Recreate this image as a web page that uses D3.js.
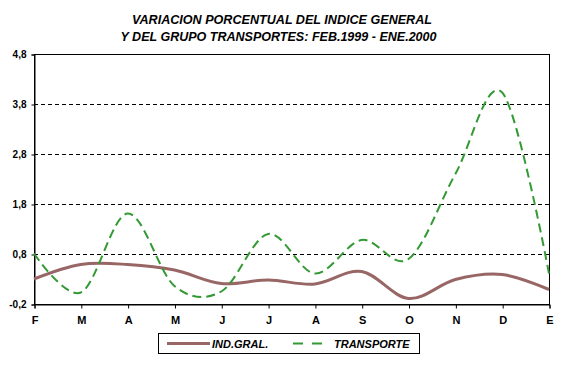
<!DOCTYPE html>
<html>
<head>
<meta charset="utf-8">
<script src="https://cdn.jsdelivr.net/npm/d3@7"></script>
<style>
  html, body { margin: 0; padding: 0; background: #fff; }
  svg { display: block; }
  text { font-family: "Liberation Sans", Arial, sans-serif; }
</style>
</head>
<body>
<div id="chart"></div>
<script>
const titleLines = ["VARIACION PORCENTUAL DEL INDICE GENERAL", "Y DEL GRUPO TRANSPORTES: FEB.1999 - ENE.2000"];
const months = ["F", "M", "A", "M", "J", "J", "A", "S", "O", "N", "D", "E"];
const indGral = [0.30, 0.59, 0.59, 0.48, 0.21, 0.28, 0.20, 0.45, -0.09, 0.29, 0.39, 0.09];
const transporte = [0.81, 0.03, 1.61, 0.16, 0.05, 1.20, 0.41, 1.08, 0.70, 2.40, 4.03, 0.41];
const yTicks = [-0.2, 0.8, 1.8, 2.8, 3.8, 4.8];
const seriesNames = ["IND.GRAL.", "TRANSPORTE"];

const W = 561, H = 369;
const svg = d3.select("#chart").append("svg").attr("width", W).attr("height", H);

const x = d3.scaleLinear().domain([0, months.length - 1]).range([34, 549]);
const y = d3.scaleLinear().domain([-0.2, 4.8]).range([304, 54]);

// title
svg.selectAll("text.title").data(titleLines).enter().append("text")
  .attr("class", "title")
  .attr("x", (d, i) => i === 0 ? 282 : 278.5)
  .attr("y", (d, i) => i === 0 ? 24 : 41)
  .attr("text-anchor", "middle")
  .attr("font-size", "12px").attr("font-weight", "bold").attr("font-style", "italic")
  .attr("textLength", (d, i) => i === 0 ? 300 : 316)
  .attr("lengthAdjust", "spacingAndGlyphs")
  .text(d => d);

// gridlines
svg.append("g").selectAll("line").data(yTicks.filter(v => v > -0.2 && v < 4.8)).enter().append("line")
  .attr("x1", x.range()[0]).attr("x2", x.range()[1])
  .attr("y1", d => y(d) + 0.5).attr("y2", d => y(d) + 0.5)
  .attr("stroke", "#000").attr("stroke-width", 1).attr("stroke-dasharray", "4,3");

// frame
svg.append("rect")
  .attr("x", x.range()[0] + 0.5).attr("y", y(4.8) + 0.5)
  .attr("width", x.range()[1] - x.range()[0]).attr("height", y(-0.2) - y(4.8))
  .attr("fill", "none").attr("stroke", "#000").attr("stroke-width", 1);

const fmt = v => d3.format(".1f")(v).replace(".", ",").replace("\u2212", "-");

// y axis
const yAxis = svg.append("g").attr("transform", `translate(${x.range()[0] + 0.5},0.5)`)
  .call(d3.axisLeft(y).tickValues(yTicks).tickSize(3).tickPadding(5).tickFormat(fmt));
yAxis.select(".domain").attr("stroke", "#000");
yAxis.selectAll("text").attr("font-size", "10px").attr("font-weight", "bold")
  .attr("font-family", "Liberation Sans, Arial, sans-serif").attr("fill", "#000");

// x axis
const xAxis = svg.append("g").attr("transform", `translate(0.5,${y(-0.2) + 0.5})`)
  .call(d3.axisBottom(x).tickValues(d3.range(months.length)).tickSize(4).tickPadding(8)
    .tickFormat(i => months[i]));
xAxis.select(".domain").attr("stroke", "#000");
xAxis.selectAll("text").attr("font-size", "11px").attr("font-weight", "bold")
  .attr("font-family", "Liberation Sans, Arial, sans-serif").attr("fill", "#000");

const curve = d3.curveCardinal.tension(0);
const line = d3.line().x((d, i) => x(i)).y(d => y(d)).curve(curve);

svg.append("path").datum(indGral)
  .attr("d", line).attr("fill", "none").attr("stroke", "#996666").attr("stroke-width", 3);

svg.append("path").datum(transporte)
  .attr("d", line).attr("fill", "none").attr("stroke", "#339933").attr("stroke-width", 2)
  .attr("stroke-dasharray", "9,5");

// legend
const lg = svg.append("g");
lg.append("rect").attr("x", 158.5).attr("y", 333.5).attr("width", 261).attr("height", 20)
  .attr("fill", "#fff").attr("stroke", "#000").attr("stroke-width", 1);
lg.append("line").attr("x1", 167).attr("x2", 210).attr("y1", 343.5).attr("y2", 343.5)
  .attr("stroke", "#996666").attr("stroke-width", 3);
lg.append("line").attr("x1", 293).attr("x2", 325).attr("y1", 343.5).attr("y2", 343.5)
  .attr("stroke", "#339933").attr("stroke-width", 2).attr("stroke-dasharray", "10,9");
lg.selectAll("text").data(seriesNames).enter().append("text")
  .attr("x", (d, i) => i === 0 ? 212 : 334)
  .attr("y", 347.5)
  .attr("font-size", "11px").attr("font-weight", "bold").attr("font-style", "italic")
  .text(d => d);
</script>
</body>
</html>
